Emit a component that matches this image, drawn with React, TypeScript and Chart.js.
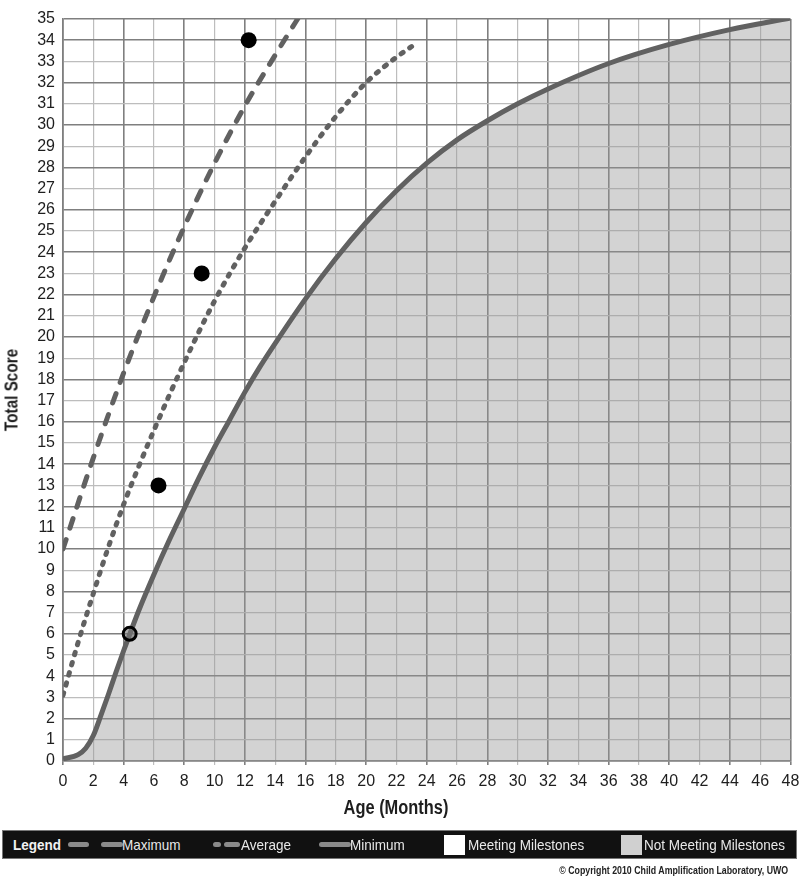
import React, { useEffect, useRef } from "react";
import { Chart, registerables } from "chart.js";
Chart.register(...registerables);

// Maximum (dashed) curve
const maxAge = [0, 2, 4, 6, 8, 10, 12, 14, 16];
const maxScore = [10, 14.3, 18.3, 21.9, 25.2, 28.2, 30.9, 33.3, 35.6];

// Average (dotted) curve
const avgAge = [0, 1, 2, 3, 4, 5, 6, 8, 10, 12, 14, 16, 18, 20, 22, 23];
const avgScore = [3.1, 5.6, 7.9, 10.1, 12.1, 13.9, 15.6, 18.8, 21.7, 24.2, 26.4, 28.5, 30.4, 32.0, 33.2, 33.7];

// Minimum (solid) curve
const minAge = [0, 1, 1.5, 2, 2.5, 3, 3.5, 4, 5, 6, 7, 8, 9, 10, 11, 12, 13, 14, 16, 18, 20, 22, 24, 26, 28, 30, 32, 36, 40, 44, 48];
const minScore = [0.1, 0.3, 0.6, 1.2, 2.15, 3.15, 4.2, 5.2, 7.1, 8.8, 10.4, 11.9, 13.4, 14.8, 16.1, 17.4, 18.6, 19.7, 21.8, 23.7, 25.4, 26.9, 28.2, 29.3, 30.2, 31.0, 31.7, 32.9, 33.8, 34.5, 35.05];

// Child's scores
const childAge = [4.4, 6.3, 9.15, 12.25];
const childScore = [6, 13, 23, 34];

const xMin = 0, xMax = 48, xStep = 2;
const yMin = 0, yMax = 35, yStep = 1;

const FONT = '"Liberation Sans", Arial, sans-serif';
const LINE = "#616161";

const pts = (xs: number[], ys: number[]) => xs.map((x, i) => ({ x, y: ys[i] }));

export default function App() {
  const ref = useRef<HTMLCanvasElement>(null);
  useEffect(() => {
    const canvas = ref.current!;
    const chart = new Chart(canvas, {
      type: "line",
      data: {
        datasets: [
          {
            type: "scatter",
            label: "Scores",
            data: pts(childAge.slice(1), childScore.slice(1)),
            pointRadius: 8,
            pointBackgroundColor: "#000",
            pointBorderColor: "#000",
            pointBorderWidth: 0,
            showLine: false,
          } as any,
          {
            type: "scatter",
            label: "First",
            data: pts(childAge.slice(0, 1), childScore.slice(0, 1)),
            pointRadius: 6.5,
            pointBackgroundColor: "rgba(120,120,120,0.6)",
            pointBorderColor: "#000",
            pointBorderWidth: 3,
            showLine: false,
          } as any,
          {
            label: "Maximum",
            data: pts(maxAge, maxScore),
            borderColor: LINE,
            borderWidth: 5,
            borderDash: [10, 12],
            borderCapStyle: "round",
            pointRadius: 0,
            cubicInterpolationMode: "monotone",
            fill: false,
          },
          {
            label: "Average",
            data: pts(avgAge, avgScore),
            borderColor: LINE,
            borderWidth: 5,
            borderDash: [2.5, 8],
            borderCapStyle: "round",
            pointRadius: 0,
            cubicInterpolationMode: "monotone",
            fill: false,
          },
          {
            label: "Minimum",
            data: pts(minAge, minScore),
            borderColor: LINE,
            borderWidth: 5,
            pointRadius: 0,
            cubicInterpolationMode: "monotone",
            fill: "origin",
            backgroundColor: "rgba(150,150,150,0.42)",
          },
        ],
      },
      options: {
        animation: false,
        responsive: false,
        maintainAspectRatio: false,
        layout: { padding: { top: 19, right: 9, left: 0, bottom: 0 } },
        plugins: { legend: { display: false }, tooltip: { enabled: false } },
        scales: {
          x: {
            type: "linear",
            min: xMin,
            max: xMax,
            ticks: {
              stepSize: xStep,
              autoSkip: false,
              maxRotation: 0,
              color: "#1e1e1e",
              padding: 7,
              font: { family: FONT, size: 16 },
            },
            grid: {
              color: (c: any) => (c.tick && c.tick.value % 4 === 0 ? "#7f7f7f" : "#bdbdbd"),
              lineWidth: (c: any) => (c.tick && c.tick.value % 4 === 0 ? 1.6 : 1.2),
              tickLength: 4,
              drawTicks: true,
            },
            border: { color: "#7f7f7f", width: 1.6 },
            afterFit: (s: any) => {
              s.height = 59;
              s.paddingRight = 9;
              s.paddingLeft = 0;
            },
          },
          y: {
            type: "linear",
            min: yMin,
            max: yMax,
            ticks: {
              stepSize: yStep,
              autoSkip: false,
              color: "#1e1e1e",
              padding: 8,
              font: { family: FONT, size: 16 },
            },
            grid: {
              color: (c: any) => (c.tick && (c.tick.value % 2 === 0 || c.tick.value === yMax) ? "#7f7f7f" : "#bdbdbd"),
              lineWidth: (c: any) => (c.tick && (c.tick.value % 2 === 0 || c.tick.value === yMax) ? 1.6 : 1.2),
              drawTicks: false,
            },
            border: { color: "#7f7f7f", width: 1.6 },
            afterFit: (s: any) => {
              s.width = 63;
            },
          },
        },
      },
    } as any);
    return () => chart.destroy();
  }, []);

  const legendText: React.CSSProperties = {
    position: "absolute",
    top: 5,
    fontFamily: FONT,
    fontSize: 15,
    color: "#e8e8e8",
    lineHeight: "17px",
    whiteSpace: "nowrap",
    transform: "scaleX(0.9)",
    transformOrigin: "left center",
  };
  const sample = (left: number, width: number): React.CSSProperties => ({
    position: "absolute",
    left,
    top: 11,
    width,
    height: 5,
    borderRadius: 3,
    background: "#8a8a8a",
  });

  return (
    <div style={{ position: "absolute", left: 0, top: 0, width: 800, height: 878, background: "#fff", overflow: "hidden" }}>
      <canvas ref={ref} width={800} height={820} style={{ position: "absolute", left: 0, top: 0, width: 800, height: 820 }} />
      <div
        style={{
          position: "absolute",
          left: 12,
          top: 390,
          transform: "translate(-50%, -50%) rotate(-90deg) scaleX(0.85)",
          fontFamily: FONT,
          fontWeight: "bold",
          fontSize: 18,
          color: "#1e1e1e",
          whiteSpace: "nowrap",
        }}
      >
        Total Score
      </div>
      <div
        style={{
          position: "absolute",
          left: 396,
          top: 807,
          transform: "translate(-50%, -50%) scaleX(0.82)",
          fontFamily: FONT,
          fontWeight: "bold",
          fontSize: 20,
          color: "#1e1e1e",
          whiteSpace: "nowrap",
        }}
      >
        Age (Months)
      </div>
      <div
        style={{
          position: "absolute",
          left: 2,
          top: 830,
          width: 795,
          height: 29,
          background: "#111",
          boxSizing: "border-box",
          border: "1px solid #777",
        }}
      >
        <div style={{ ...legendText, left: 10, fontWeight: "bold", color: "#f2f2f2" }}>Legend</div>
        <div style={sample(65, 21)} />
        <div style={sample(98, 22)} />
        <div style={{ ...legendText, left: 119 }}>Maximum</div>
        <div style={sample(210, 8)} />
        <div style={sample(221, 16)} />
        <div style={{ ...legendText, left: 238 }}>Average</div>
        <div style={sample(316, 32)} />
        <div style={{ ...legendText, left: 347 }}>Minimum</div>
        <div style={{ position: "absolute", left: 441, top: 4, width: 21, height: 20, background: "#fff" }} />
        <div style={{ ...legendText, left: 465 }}>Meeting Milestones</div>
        <div style={{ position: "absolute", left: 618, top: 4, width: 21, height: 20, background: "#d0d0d0" }} />
        <div style={{ ...legendText, left: 641 }}>Not Meeting Milestones</div>
      </div>
      <div
        style={{
          position: "absolute",
          right: 12,
          top: 865,
          fontFamily: FONT,
          fontWeight: "bold",
          fontSize: 10,
          color: "#222",
          whiteSpace: "nowrap",
          transform: "scaleX(0.88)",
          transformOrigin: "right center",
        }}
      >
        © Copyright 2010 Child Amplification Laboratory, UWO
      </div>
    </div>
  );
}
